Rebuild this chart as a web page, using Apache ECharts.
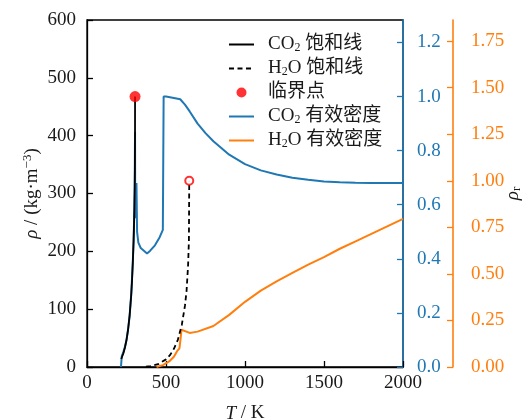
<!DOCTYPE html>
<html>
<head>
<meta charset="utf-8">
<script src="https://cdn.jsdelivr.net/npm/echarts@6/dist/echarts.min.js"></script>
<style>
  html, body { margin: 0; padding: 0; background: #fff; }
  #chart { width: 523px; height: 420px; }
</style>
</head>
<body>
<div id="chart"></div>
<script>
// CO2 saturation line (vapour side), kg/m3
const co2SatT   = [216.6, 220, 230, 240, 250, 260, 270, 280, 285, 290, 295, 298, 300, 302, 303, 304, 304.13];
const co2SatRho = [13.8, 15.8, 23.3, 33.3, 46.6, 64.4, 89.8, 125, 149, 181, 218, 250, 276, 311, 340, 405, 467.6];

// H2O saturation line (vapour side), kg/m3
const h2oSatT   = [373, 400, 450, 500, 525, 550, 575, 600, 620, 630, 640, 645, 647.1];
const h2oSatRho = [0.6, 1.4, 4.8, 13.2, 20.4, 31.5, 47, 72.8, 106, 131, 177, 219, 322];

// critical points
const critT   = [304.13, 647.1];
const critRho = [467.6, 322];

// CO2 effective density (reduced, rho / rho_c)
const co2EffT  = [215, 220, 230, 240, 250, 260, 270, 280, 290, 295, 300, 302, 304, 305, 308, 313, 317, 325, 340, 360, 380, 400, 430, 460, 480, 485, 500, 550, 590, 620, 650, 700, 750, 800, 850, 900, 1000, 1100, 1200, 1300, 1400, 1500, 1600, 1700, 1800, 1900, 2000];
const co2EffRr = [0.00, 0.04, 0.055, 0.075, 0.10, 0.14, 0.19, 0.27, 0.39, 0.47, 0.59, 0.67, 0.87, 0.62, 0.55, 0.68, 0.50, 0.46, 0.44, 0.43, 0.42, 0.43, 0.45, 0.48, 0.507, 1.00, 1.00, 0.995, 0.99, 0.97, 0.945, 0.90, 0.865, 0.835, 0.81, 0.785, 0.75, 0.727, 0.712, 0.70, 0.692, 0.686, 0.683, 0.681, 0.68, 0.68, 0.68];

// H2O effective density (reduced, rho / rho_c)
const h2oEffT  = [440, 480, 520, 550, 570, 585, 592, 598, 610, 650, 700, 800, 900, 1000, 1100, 1200, 1300, 1400, 1500, 1600, 1700, 1800, 1900, 2000];
const h2oEffRr = [0.00, 0.01, 0.03, 0.055, 0.085, 0.10, 0.15, 0.20, 0.195, 0.183, 0.19, 0.22, 0.28, 0.35, 0.41, 0.46, 0.505, 0.55, 0.59, 0.635, 0.675, 0.715, 0.755, 0.795];

// axis ticks
const xTicks = [0, 500, 1000, 1500, 2000];
const rhoTicks = [0, 100, 200, 300, 400, 500, 600];
const co2RrTicks = [0.0, 0.2, 0.4, 0.6, 0.8, 1.0, 1.2];
const h2oRrTicks = [0.00, 0.25, 0.50, 0.75, 1.00, 1.25, 1.50, 1.75];

const RHO_MAX = 600;
const RHOC_CO2 = 467.6;
const RHOC_H2O = 322;

const BLUE = '#1f77b4';
const ORANGE = '#ff7f0e';
const INK = '#1a1a1a';
const SERIF = '"Liberation Serif", "Noto Sans CJK SC", serif';
const FS = 19;

const zip = (a, b) => a.map((v, i) => [v, b[i]]);

const legendNames = {
  'CO2 饱和线': '{g|}{n|CO}{s|2}{n| 饱和线}',
  'H2O 饱和线': '{g|}{n|H}{s|2}{n|O 饱和线}',
  '临界点': '{g|}{n|临界点}',
  'CO2 有效密度': '{g|}{n|CO}{s|2}{n| 有效密度}',
  'H2O 有效密度': '{g|}{n|H}{s|2}{n|O 有效密度}'
};

// line entries show only their stroke, no marker
const lineEntry = name => ({ name, itemStyle: { opacity: 0 } });

const chart = echarts.init(document.getElementById('chart'), null, { renderer: 'canvas' });

chart.setOption({
  animation: false,
  backgroundColor: '#fff',
  grid: {
    left: 87, right: 120, top: 20, bottom: 53,
    outerBoundsMode: 'none', containLabel: false,
    show: true, borderColor: '#000', borderWidth: 1.3, backgroundColor: 'transparent'
  },
  legend: {
    left: 223, top: 30, orient: 'vertical',
    itemWidth: 25, itemHeight: 10, itemGap: 5,
    data: [
      lineEntry('CO2 饱和线'),
      lineEntry('H2O 饱和线'),
      { name: '临界点' },
      lineEntry('CO2 有效密度'),
      lineEntry('H2O 有效密度')
    ],
    formatter: name => legendNames[name],
    textStyle: {
      fontFamily: SERIF, fontSize: FS, color: INK,
      rich: {
        g: { width: 9 },
        n: { fontFamily: SERIF, fontSize: FS, color: INK, lineHeight: 19 },
        s: { fontFamily: SERIF, fontSize: 12, color: INK, lineHeight: 12, verticalAlign: 'bottom' }
      }
    }
  },
  xAxis: {
    type: 'value', min: 0, max: 2000, interval: 500,
    name: '{i|T}{n| / K}', nameLocation: 'middle', nameGap: 37, nameMoveOverlap: false,
    nameTextStyle: {
      rich: {
        i: { fontFamily: SERIF, fontSize: FS, fontStyle: 'italic', color: INK },
        n: { fontFamily: SERIF, fontSize: FS, color: INK }
      }
    },
    axisLine: { show: true, lineStyle: { color: '#000', width: 1.3 } },
    axisTick: { show: true, inside: true, length: 6, lineStyle: { color: '#000', width: 1.3 }, customValues: xTicks },
    axisLabel: { fontFamily: SERIF, fontSize: FS, color: INK, margin: 7, customValues: xTicks, formatter: v => String(v) },
    splitLine: { show: false }
  },
  yAxis: [
    {
      type: 'value', position: 'left', min: 0, max: RHO_MAX, interval: 100,
      name: '{i|ρ}{n| / (kg·m}{p|−3}{n|)}', nameLocation: 'middle', nameGap: 44, nameRotate: 90, nameMoveOverlap: false,
      nameTextStyle: {
        rich: {
          i: { fontFamily: SERIF, fontSize: FS, fontStyle: 'italic', color: INK, lineHeight: 22 },
          n: { fontFamily: SERIF, fontSize: FS, color: INK, lineHeight: 22 },
          p: { fontFamily: SERIF, fontSize: 13, color: INK, lineHeight: 13, verticalAlign: 'top' }
        }
      },
      axisLine: { show: true, lineStyle: { color: '#000', width: 1.3 } },
      axisTick: { show: true, inside: true, length: 6, lineStyle: { color: '#000', width: 1.3 }, customValues: rhoTicks },
      axisLabel: { fontFamily: SERIF, fontSize: FS, color: INK, margin: 11, customValues: rhoTicks, formatter: v => String(v) },
      splitLine: { show: false }
    },
    {
      type: 'value', position: 'right', offset: 0, min: 0, max: RHO_MAX / RHOC_CO2,
      axisLine: { show: true, lineStyle: { color: BLUE, width: 1.6 } },
      axisTick: { show: true, inside: true, length: 6, lineStyle: { color: BLUE, width: 1.3 }, customValues: co2RrTicks },
      axisLabel: { fontFamily: SERIF, fontSize: FS, color: BLUE, margin: 14, customValues: co2RrTicks, formatter: v => v.toFixed(1) },
      splitLine: { show: false }
    },
    {
      type: 'value', position: 'right', offset: 50, min: 0, max: RHO_MAX / RHOC_H2O,
      name: '{i|ρ}{s|r}', nameLocation: 'middle', nameGap: 50, nameRotate: 90, nameMoveOverlap: false,
      nameTextStyle: {
        rich: {
          i: { fontFamily: SERIF, fontSize: FS, fontStyle: 'italic', color: INK, lineHeight: 20 },
          s: { fontFamily: SERIF, fontSize: 13, color: INK, lineHeight: 13, verticalAlign: 'bottom' }
        }
      },
      axisLine: { show: true, lineStyle: { color: ORANGE, width: 1.6 } },
      axisTick: { show: true, inside: true, length: 6, lineStyle: { color: ORANGE, width: 1.3 }, customValues: h2oRrTicks },
      axisLabel: { fontFamily: SERIF, fontSize: FS, color: ORANGE, margin: 18, customValues: h2oRrTicks, formatter: v => v.toFixed(2) },
      splitLine: { show: false }
    }
  ],
  series: [
    {
      name: 'CO2 饱和线', type: 'line', yAxisIndex: 0, symbol: 'none', z: 3,
      lineStyle: { color: '#000', width: 1.8 }, itemStyle: { color: '#000' },
      data: zip(co2SatT, co2SatRho)
    },
    {
      name: 'H2O 饱和线', type: 'line', yAxisIndex: 0, symbol: 'none', z: 3,
      lineStyle: { color: '#000', width: 1.8, type: [5, 3.5] }, itemStyle: { color: '#000' },
      data: zip(h2oSatT, h2oSatRho)
    },
    {
      name: '临界点', type: 'scatter', yAxisIndex: 0, z: 5,
      symbol: 'circle',
      itemStyle: { color: '#ff0000' },
      data: [
        { value: [critT[0], critRho[0]], symbolSize: 11, itemStyle: { color: '#ff0000' } },
        { value: [critT[1], critRho[1]], symbolSize: 8, itemStyle: { color: '#fff', borderColor: '#ff0000', borderWidth: 2 } }
      ]
    },
    {
      name: 'CO2 有效密度', type: 'line', yAxisIndex: 1, symbol: 'none', z: 2,
      lineStyle: { color: BLUE, width: 2 }, itemStyle: { color: BLUE },
      data: zip(co2EffT, co2EffRr)
    },
    {
      name: 'H2O 有效密度', type: 'line', yAxisIndex: 2, symbol: 'none', z: 2,
      lineStyle: { color: ORANGE, width: 2 }, itemStyle: { color: ORANGE },
      data: zip(h2oEffT, h2oEffRr)
    }
  ]
});
</script>
</body>
</html>
